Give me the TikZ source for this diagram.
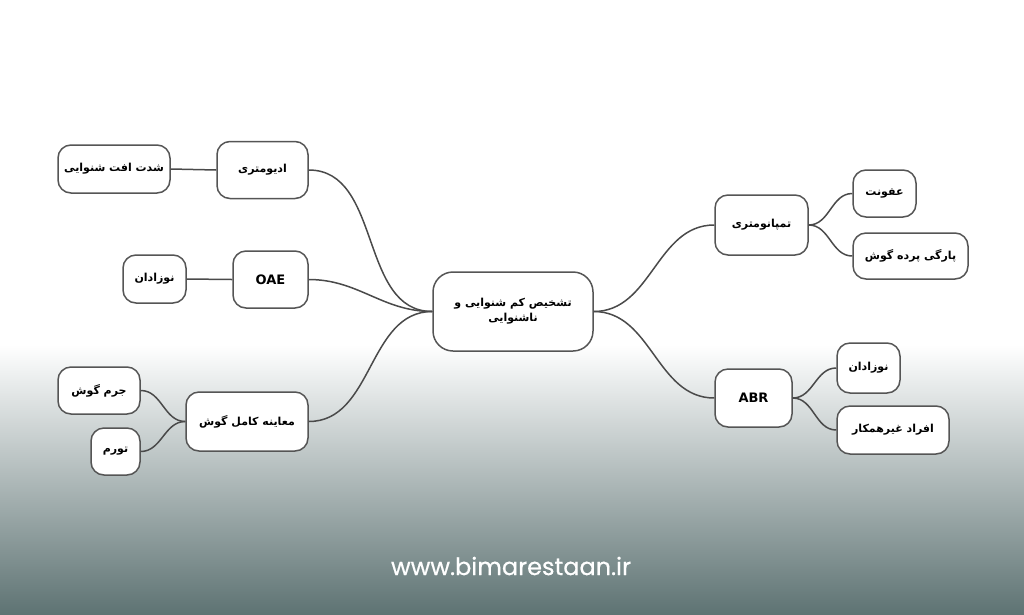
\documentclass[tikz,border=0pt]{standalone}
\usepackage{fontspec}
\setmainfont{DejaVu Sans}
\newfontfamily\fafont[Script=Arabic]{DejaVu Sans}
\newfontfamily\urlfont[FakeBold=0.6]{Poppins}
\TeXXeTstate=1
\newcommand{\fat}[1]{{\fafont\bfseries\beginR #1\endR}}
\definecolor{boxgray}{HTML}{555555}
\definecolor{linkgray}{HTML}{4A4A4A}
\definecolor{bgmid}{HTML}{BCC4C5}
\definecolor{bgbot}{HTML}{5E7373}
\begin{document}
\begin{tikzpicture}[x=1pt,y=-1pt,
  box/.style={draw=boxgray, line width=1.5pt, rounded corners=13pt, fill=white,
    inner sep=0pt, align=center, font=\fontsize{11}{15}\selectfont},
  link/.style={draw=linkgray, line width=1.5pt},
  latin/.style={font=\fontsize{13}{15}\selectfont\bfseries}]
\useasboundingbox (0,0) rectangle (1024,614);
\fill[white] (0,0) rectangle (1024,345);
\shade[top color=white, middle color=bgmid, bottom color=bgbot] (0,345) rectangle (1024,614);

% center
\node[box, rounded corners=20pt, minimum width=160pt, minimum height=79pt] (c) at (513,311.5)
  {\fat{تشخیص کم شنوایی و}\\\fat{ناشنوایی}};

% left
\node[box, minimum width=91pt, minimum height=57pt] (adio) at (262.5,170) {\fat{ادیومتری}};
\node[box, minimum width=112pt, minimum height=48pt] (shed) at (114,169) {\fat{شدت افت شنوایی}};
\node[box, latin, minimum width=75pt, minimum height=57pt] (oae) at (270.5,279.5) {OAE};
\node[box, minimum width=63pt, minimum height=48pt] (nowL) at (154.5,279) {\fat{نوزادان}};
\node[box, minimum width=122pt, minimum height=59pt] (moa) at (247,421.5) {\fat{معاینه کامل گوش}};
\node[box, minimum width=82pt, minimum height=47pt] (jerm) at (99,390.5) {\fat{جرم گوش}};
\node[box, minimum width=49pt, minimum height=47pt] (tav) at (115.5,451.5) {\fat{تورم}};

% right
\node[box, minimum width=93pt, minimum height=60pt] (tymp) at (761.5,225) {\fat{تمپانومتری}};
\node[box, minimum width=63pt, minimum height=47pt] (ofu) at (884.5,193.5) {\fat{عفونت}};
\node[box, minimum width=115pt, minimum height=46pt] (par) at (910.5,256) {\fat{پارگی پرده گوش}};
\node[box, latin, minimum width=77pt, minimum height=58pt] (abr) at (753.5,398) {ABR};
\node[box, minimum width=63pt, minimum height=50pt] (nowR) at (868.5,368) {\fat{نوزادان}};
\node[box, minimum width=112pt, minimum height=48pt] (afr) at (893,430) {\fat{افراد غیرهمکار}};

% connectors
\draw[link] (c.west) to[out=180,in=0] (adio.east);
\draw[link] (c.west) to[out=180,in=0] (oae.east);
\draw[link] (c.west) to[out=180,in=0] (moa.east);
\draw[link] (c.east) to[out=0,in=180] (tymp.west);
\draw[link] (c.east) to[out=0,in=180] (abr.west);
\draw[link] (adio.west) -- (shed.east);
\draw[link] (oae.west) -- (nowL.east);
\draw[link] (moa.west) to[out=180,in=0] (jerm.east);
\draw[link] (moa.west) to[out=180,in=0] (tav.east);
\draw[link] (tymp.east) to[out=0,in=180] (ofu.west);
\draw[link] (tymp.east) to[out=0,in=180] (par.west);
\draw[link] (abr.east) to[out=0,in=180] (nowR.west);
\draw[link] (abr.east) to[out=0,in=180] (afr.west);

% url
\node[text=white, inner sep=0pt, font=\urlfont\fontsize{24}{28}\selectfont] (url) at (511,566) {www.bimarestaan.ir};
\end{tikzpicture}
\end{document}
